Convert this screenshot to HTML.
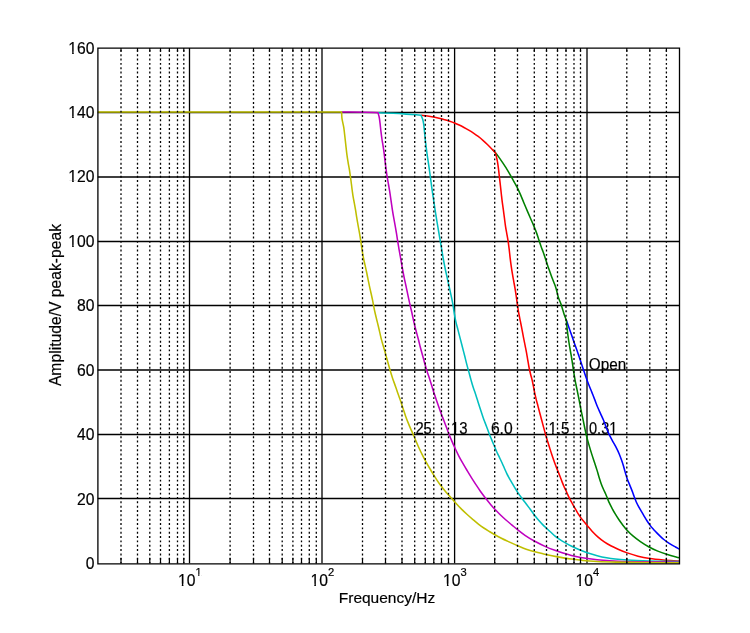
<!DOCTYPE html><html><head><meta charset="utf-8"><style>html,body{margin:0;padding:0;background:#fff;overflow:hidden}svg{display:block}</style></head><body><svg width="750" height="633" viewBox="0 0 750 633" font-family="'Liberation Sans', sans-serif">
<style>text{fill:#000;stroke:#000;stroke-width:0.18px}</style>
<rect width="750" height="633" fill="#fff"/>
<defs><mask id="nf0" maskUnits="userSpaceOnUse" x="-2000" y="-2000" width="4000" height="4000"><rect x="-2000" y="-2000" width="4000" height="4000" fill="#fff"/><rect x="0.35" y="-2.02" width="3.47" height="2.55" fill="#000"/><rect x="5.47" y="-2.02" width="3.27" height="2.55" fill="#000"/></mask><mask id="nf1" maskUnits="userSpaceOnUse" x="-2000" y="-2000" width="4000" height="4000"><rect x="-2000" y="-2000" width="4000" height="4000" fill="#fff"/><rect x="0.35" y="-2.02" width="3.47" height="2.55" fill="#000"/><rect x="5.47" y="-2.02" width="3.27" height="2.55" fill="#000"/></mask><mask id="nf2" maskUnits="userSpaceOnUse" x="-2000" y="-2000" width="4000" height="4000"><rect x="-2000" y="-2000" width="4000" height="4000" fill="#fff"/><rect x="22.18" y="-2.02" width="3.47" height="2.55" fill="#000"/><rect x="27.29" y="-2.02" width="3.27" height="2.55" fill="#000"/></mask><mask id="nf3" maskUnits="userSpaceOnUse" x="-2000" y="-2000" width="4000" height="4000"><rect x="-2000" y="-2000" width="4000" height="4000" fill="#fff"/><rect x="68.66" y="244.78" width="3.47" height="2.55" fill="#000"/><rect x="73.77" y="244.78" width="3.27" height="2.55" fill="#000"/></mask><mask id="nf4" maskUnits="userSpaceOnUse" x="-2000" y="-2000" width="4000" height="4000"><rect x="-2000" y="-2000" width="4000" height="4000" fill="#fff"/><rect x="68.66" y="180.38" width="3.47" height="2.55" fill="#000"/><rect x="73.77" y="180.38" width="3.27" height="2.55" fill="#000"/></mask><mask id="nf5" maskUnits="userSpaceOnUse" x="-2000" y="-2000" width="4000" height="4000"><rect x="-2000" y="-2000" width="4000" height="4000" fill="#fff"/><rect x="68.66" y="115.98" width="3.47" height="2.55" fill="#000"/><rect x="73.77" y="115.98" width="3.27" height="2.55" fill="#000"/></mask><mask id="nf6" maskUnits="userSpaceOnUse" x="-2000" y="-2000" width="4000" height="4000"><rect x="-2000" y="-2000" width="4000" height="4000" fill="#fff"/><rect x="68.66" y="51.58" width="3.47" height="2.55" fill="#000"/><rect x="73.77" y="51.58" width="3.27" height="2.55" fill="#000"/></mask><mask id="nf7" maskUnits="userSpaceOnUse" x="-2000" y="-2000" width="4000" height="4000"><rect x="-2000" y="-2000" width="4000" height="4000" fill="#fff"/><rect x="178.32" y="583.68" width="3.47" height="2.55" fill="#000"/><rect x="183.43" y="583.68" width="3.27" height="2.55" fill="#000"/></mask><mask id="nf8" maskUnits="userSpaceOnUse" x="-2000" y="-2000" width="4000" height="4000"><rect x="-2000" y="-2000" width="4000" height="4000" fill="#fff"/><rect x="195.75" y="574.56" width="2.47" height="1.82" fill="#000"/><rect x="199.40" y="574.56" width="2.33" height="1.82" fill="#000"/></mask><mask id="nf9" maskUnits="userSpaceOnUse" x="-2000" y="-2000" width="4000" height="4000"><rect x="-2000" y="-2000" width="4000" height="4000" fill="#fff"/><rect x="310.82" y="583.68" width="3.47" height="2.55" fill="#000"/><rect x="315.93" y="583.68" width="3.27" height="2.55" fill="#000"/></mask><mask id="nf10" maskUnits="userSpaceOnUse" x="-2000" y="-2000" width="4000" height="4000"><rect x="-2000" y="-2000" width="4000" height="4000" fill="#fff"/><rect x="443.42" y="583.68" width="3.47" height="2.55" fill="#000"/><rect x="448.53" y="583.68" width="3.27" height="2.55" fill="#000"/></mask><mask id="nf11" maskUnits="userSpaceOnUse" x="-2000" y="-2000" width="4000" height="4000"><rect x="-2000" y="-2000" width="4000" height="4000" fill="#fff"/><rect x="575.82" y="583.68" width="3.47" height="2.55" fill="#000"/><rect x="580.93" y="583.68" width="3.27" height="2.55" fill="#000"/></mask></defs>
<path d="M189.50 48.0V563.3M322.00 48.0V563.3M454.60 48.0V563.3M587.00 48.0V563.3M97.8 498.50H679.4M97.8 434.50H679.4M97.8 370.00H679.4M97.8 305.50H679.4M97.8 241.50H679.4M97.8 177.00H679.4M97.8 112.50H679.4" stroke="#000" stroke-width="1.3" fill="none"/>
<text transform="translate(588.8 370.0) scale(0.975 1)" font-size="15.7">Open</text>
<text transform="translate(415.4 434.0) scale(0.94 1)" font-size="15.7">25</text>
<text transform="translate(451.0 434.0) scale(0.95 1)" font-size="15.7" mask="url(#nf0)">13</text>
<text transform="translate(490.9 434.0) scale(1.0 1)" font-size="15.7">6.0</text>
<text transform="translate(548.4 434.0) scale(0.965 1)" font-size="15.7" mask="url(#nf1)">1.5</text>
<text transform="translate(589.0 434.0) scale(0.93 1)" font-size="15.7" mask="url(#nf2)">0.31</text>
<path d="M566.40 320.40 C567.27 322.83 568.13 325.24 569.00 327.70 C569.88 330.22 570.75 332.77 571.65 335.35 C572.57 338.00 573.50 340.71 574.45 343.40 C575.40 346.11 576.40 348.83 577.35 351.55 C578.30 354.28 579.24 356.97 580.18 359.75 C581.14 362.62 582.08 365.59 583.05 368.50 C584.02 371.41 585.00 374.41 586.00 377.23 C586.95 379.90 587.89 382.45 588.88 385.00 C589.85 387.50 590.89 389.92 591.88 392.40 C592.87 394.89 593.86 397.43 594.83 399.90 C595.76 402.30 596.61 404.71 597.58 407.03 C598.51 409.27 599.54 411.37 600.53 413.57 C601.53 415.81 602.61 418.05 603.55 420.32 C604.49 422.60 605.28 424.97 606.17 427.25 C607.06 429.50 607.85 431.71 608.88 433.93 C609.94 436.23 611.22 438.54 612.45 440.82 C613.68 443.11 615.10 445.41 616.25 447.62 C617.31 449.68 618.28 451.68 619.12 453.68 C619.93 455.57 620.57 457.41 621.25 459.32 C621.95 461.28 622.62 463.25 623.25 465.30 C623.91 467.43 624.46 469.69 625.10 471.88 C625.74 474.06 626.33 476.31 627.07 478.42 C627.80 480.48 628.67 482.41 629.48 484.40 C630.28 486.39 631.13 488.38 631.90 490.38 C632.66 492.35 633.32 494.40 634.05 496.33 C634.75 498.17 635.40 499.96 636.17 501.70 C636.93 503.40 637.76 505.03 638.62 506.65 C639.49 508.26 640.43 509.78 641.35 511.38 C642.29 513.00 643.26 514.68 644.23 516.30 C645.18 517.90 646.14 519.52 647.12 521.02 C648.06 522.45 648.99 523.79 649.97 525.10 C650.94 526.39 651.92 527.62 652.97 528.83 C654.04 530.04 655.17 531.18 656.32 532.38 C657.53 533.62 658.81 534.92 660.08 536.12 C661.31 537.30 662.57 538.49 663.83 539.52 C665.00 540.49 666.15 541.33 667.38 542.17 C668.63 543.04 669.94 543.86 671.27 544.65 C672.63 545.46 674.05 546.22 675.42 546.98 C676.76 547.71 678.07 548.39 679.40 549.10" stroke="#0000ff" stroke-width="1.55" fill="none" stroke-linejoin="round" stroke-linecap="butt"/>
<path d="M492.40 149.50 C493.32 150.47 494.24 151.37 495.15 152.43 C496.14 153.57 497.05 154.68 498.12 156.12 C499.54 158.03 501.24 160.58 502.80 162.93 C504.44 165.38 506.25 168.12 507.72 170.53 C509.02 172.64 510.10 174.63 511.20 176.58 C512.21 178.38 513.10 180.04 514.08 181.80 C515.08 183.61 516.13 185.35 517.12 187.30 C518.21 189.42 519.24 191.70 520.27 194.07 C521.40 196.66 522.48 199.49 523.62 202.25 C524.81 205.09 526.06 208.05 527.27 210.88 C528.45 213.63 529.66 216.36 530.80 219.00 C531.89 221.51 532.97 223.90 533.98 226.35 C534.97 228.77 535.94 231.21 536.80 233.62 C537.64 235.97 538.33 238.39 539.08 240.62 C539.76 242.68 540.38 244.62 541.08 246.55 C541.75 248.43 542.50 250.20 543.17 252.07 C543.87 254.00 544.54 255.98 545.20 257.98 C545.88 260.01 546.50 262.07 547.20 264.15 C547.91 266.27 548.66 268.42 549.42 270.57 C550.20 272.78 551.02 275.09 551.83 277.23 C552.58 279.22 553.41 281.18 554.10 282.98 C554.71 284.54 555.31 285.97 555.77 287.40 C556.20 288.72 556.51 289.98 556.83 291.25 C557.14 292.49 557.36 293.73 557.67 294.95 C557.99 296.15 558.32 297.35 558.73 298.50 C559.12 299.62 559.64 300.65 560.08 301.75 C560.52 302.87 560.97 303.95 561.38 305.15 C561.81 306.45 562.14 307.83 562.58 309.27 C563.06 310.89 563.57 312.63 564.17 314.40 C564.83 316.33 565.66 318.40 566.40 320.40 C566.56 322.34 566.67 324.14 566.88 326.23 C567.11 328.64 567.41 331.39 567.75 334.02 C568.10 336.73 568.51 339.57 568.92 342.25 C569.33 344.83 569.78 347.37 570.20 349.83 C570.60 352.15 571.02 354.37 571.40 356.60 C571.77 358.77 572.08 360.76 572.42 363.05 C572.82 365.65 573.18 368.51 573.62 371.38 C574.10 374.45 574.62 377.82 575.20 380.92 C575.76 383.90 576.41 386.65 577.02 389.62 C577.67 392.77 578.35 396.03 579.00 399.32 C579.68 402.75 580.32 406.39 581.00 409.80 C581.65 413.07 582.36 416.27 583.00 419.38 C583.61 422.32 584.16 425.19 584.75 428.00 C585.32 430.69 585.82 433.21 586.48 435.88 C587.16 438.66 587.96 441.47 588.80 444.38 C589.69 447.46 590.69 450.77 591.67 453.88 C592.63 456.89 593.68 459.93 594.60 462.75 C595.44 465.32 596.23 467.71 596.98 470.12 C597.69 472.45 598.27 474.71 598.98 476.98 C599.67 479.22 600.40 481.54 601.17 483.65 C601.90 485.61 602.69 487.49 603.45 489.25 C604.14 490.85 604.89 492.26 605.55 493.77 C606.20 495.27 606.78 496.76 607.40 498.27 C608.03 499.81 608.60 501.35 609.33 502.92 C610.10 504.60 610.99 506.27 611.92 508.02 C612.94 509.94 614.06 512.00 615.23 513.95 C616.40 515.92 617.66 517.91 618.95 519.80 C620.22 521.65 621.53 523.41 622.90 525.17 C624.29 526.96 625.65 528.73 627.25 530.45 C628.96 532.29 630.83 534.08 632.90 535.85 C635.17 537.79 637.77 539.73 640.40 541.55 C643.14 543.44 646.11 545.36 649.05 546.98 C651.91 548.54 654.76 549.89 657.77 551.12 C660.88 552.39 664.04 553.39 667.45 554.45 C671.21 555.62 675.42 556.68 679.40 557.80" stroke="#008000" stroke-width="1.55" fill="none" stroke-linejoin="round" stroke-linecap="butt"/>
<path d="M421.00 115.20 C423.17 115.47 425.42 115.69 427.52 116.00 C429.51 116.29 431.39 116.62 433.30 117.00 C435.21 117.38 437.11 117.82 439.00 118.28 C440.89 118.73 442.80 119.25 444.62 119.75 C446.36 120.23 448.04 120.69 449.70 121.23 C451.32 121.75 452.90 122.29 454.48 122.92 C456.07 123.57 457.65 124.29 459.23 125.05 C460.82 125.82 462.40 126.65 463.98 127.50 C465.57 128.36 467.15 129.24 468.73 130.17 C470.32 131.12 471.91 132.09 473.48 133.12 C475.07 134.18 476.64 135.29 478.20 136.47 C479.80 137.69 481.37 138.97 482.93 140.32 C484.53 141.73 486.14 143.27 487.67 144.78 C489.17 146.24 490.66 147.78 492.02 149.22 C493.29 150.55 494.41 151.81 495.60 153.10 C496.22 155.93 496.95 158.81 497.45 161.60 C497.93 164.28 498.24 166.90 498.57 169.53 C498.90 172.11 499.12 174.60 499.43 177.25 C499.75 180.07 500.12 183.06 500.45 185.97 C500.78 188.90 501.08 191.95 501.40 194.78 C501.70 197.40 501.97 199.81 502.30 202.35 C502.64 204.94 503.04 207.53 503.40 210.18 C503.77 212.90 504.12 215.75 504.48 218.47 C504.82 221.12 505.13 223.72 505.52 226.30 C505.91 228.85 506.39 231.35 506.82 233.88 C507.26 236.39 507.76 238.88 508.15 241.43 C508.55 244.01 508.85 246.60 509.18 249.25 C509.51 251.98 509.77 254.80 510.10 257.58 C510.43 260.35 510.79 263.15 511.18 265.88 C511.55 268.52 511.95 271.11 512.38 273.70 C512.80 276.25 513.27 278.77 513.73 281.30 C514.18 283.83 514.67 286.31 515.10 288.88 C515.54 291.50 515.94 294.17 516.33 296.85 C516.72 299.58 517.05 302.38 517.45 305.10 C517.85 307.76 518.25 310.35 518.73 313.00 C519.21 315.69 519.81 318.39 520.35 321.10 C520.89 323.84 521.45 326.63 521.97 329.38 C522.49 332.08 522.95 334.78 523.47 337.45 C523.99 340.09 524.56 342.71 525.08 345.30 C525.58 347.82 526.10 350.28 526.55 352.77 C527.00 355.26 527.38 357.78 527.80 360.25 C528.21 362.68 528.58 365.14 529.05 367.48 C529.50 369.70 530.01 371.86 530.52 373.98 C531.02 376.00 531.60 377.90 532.08 379.90 C532.56 381.93 532.97 383.96 533.40 386.07 C533.85 388.30 534.23 390.68 534.70 392.95 C535.17 395.18 535.69 397.41 536.23 399.57 C536.75 401.67 537.32 403.65 537.88 405.73 C538.44 407.85 538.99 409.96 539.58 412.18 C540.20 414.55 540.86 417.03 541.53 419.52 C542.21 422.10 542.93 424.83 543.62 427.40 C544.29 429.86 544.93 432.28 545.60 434.62 C546.24 436.86 546.88 438.97 547.55 441.15 C548.22 443.35 548.91 445.52 549.62 447.77 C550.37 450.13 551.14 452.56 551.95 454.98 C552.78 457.45 553.66 460.01 554.55 462.45 C555.41 464.81 556.31 467.11 557.20 469.38 C558.06 471.57 558.95 473.71 559.77 475.82 C560.57 477.87 561.33 480.00 562.07 481.88 C562.73 483.53 563.35 485.04 564.00 486.50 C564.59 487.83 565.21 488.98 565.80 490.27 C566.41 491.62 566.98 493.06 567.60 494.42 C568.21 495.76 568.82 497.10 569.48 498.38 C570.10 499.60 570.76 500.71 571.42 501.93 C572.13 503.21 572.84 504.53 573.60 505.88 C574.40 507.29 575.26 508.80 576.10 510.23 C576.92 511.63 577.72 513.04 578.58 514.38 C579.40 515.67 580.21 516.91 581.12 518.12 C582.05 519.36 583.07 520.48 584.10 521.73 C585.22 523.08 586.38 524.49 587.62 525.98 C589.02 527.63 590.46 529.46 592.07 531.20 C593.82 533.07 595.78 535.03 597.80 536.80 C599.84 538.59 602.07 540.34 604.27 541.85 C606.40 543.30 608.52 544.52 610.77 545.73 C613.11 546.97 615.48 548.04 618.08 549.17 C620.95 550.43 624.07 551.74 627.27 552.88 C630.69 554.08 634.33 555.23 638.00 556.15 C641.79 557.10 645.62 557.85 649.67 558.48 C654.03 559.15 658.56 559.57 663.30 560.00 C668.44 560.46 674.03 560.73 679.40 561.10" stroke="#ff0000" stroke-width="1.55" fill="none" stroke-linejoin="round" stroke-linecap="butt"/>
<path d="M378.00 112.70 C383.04 112.91 388.26 113.08 393.12 113.33 C397.66 113.56 401.75 113.82 406.25 114.12 C411.02 114.44 416.08 114.84 421.00 115.20 C421.53 116.48 422.17 117.69 422.60 119.05 C423.06 120.51 423.32 122.02 423.60 123.70 C423.92 125.67 424.07 127.74 424.33 130.15 C424.65 133.22 424.96 136.96 425.38 140.62 C425.84 144.70 426.42 149.29 427.00 153.50 C427.56 157.57 428.21 161.56 428.77 165.47 C429.31 169.22 429.81 172.88 430.30 176.50 C430.77 180.00 431.21 183.49 431.68 186.82 C432.11 189.97 432.55 192.96 433.00 195.97 C433.44 198.93 433.88 201.81 434.32 204.75 C434.78 207.73 435.23 210.77 435.70 213.75 C436.16 216.69 436.62 219.57 437.10 222.50 C437.59 225.47 438.11 228.46 438.62 231.47 C439.15 234.53 439.71 237.64 440.23 240.70 C440.74 243.72 441.21 246.68 441.72 249.72 C442.25 252.86 442.77 256.08 443.35 259.25 C443.93 262.42 444.55 265.61 445.20 268.75 C445.84 271.85 446.54 274.86 447.23 277.98 C447.93 281.17 448.67 284.48 449.38 287.67 C450.06 290.79 450.77 293.90 451.40 296.92 C452.00 299.83 452.57 302.62 453.07 305.48 C453.57 308.32 453.91 311.22 454.40 314.02 C454.87 316.75 455.35 319.42 455.95 322.08 C456.54 324.71 457.29 327.23 457.98 329.88 C458.68 332.60 459.38 335.39 460.10 338.18 C460.83 341.00 461.59 343.85 462.32 346.70 C463.06 349.55 463.80 352.41 464.52 355.27 C465.25 358.14 465.91 361.04 466.65 363.88 C467.37 366.66 468.16 369.42 468.90 372.12 C469.61 374.75 470.29 377.39 471.00 379.90 C471.67 382.27 472.31 384.56 473.02 386.78 C473.71 388.89 474.47 390.83 475.18 392.93 C475.90 395.09 476.60 397.34 477.30 399.55 C478.00 401.76 478.70 404.03 479.40 406.17 C480.06 408.22 480.74 410.22 481.38 412.15 C481.97 413.96 482.51 415.72 483.10 417.42 C483.67 419.04 484.23 420.49 484.85 422.12 C485.53 423.92 486.27 425.83 487.00 427.77 C487.78 429.84 488.57 432.11 489.38 434.17 C490.14 436.13 490.94 437.96 491.73 439.85 C492.51 441.75 493.30 443.63 494.10 445.55 C494.92 447.51 495.72 449.55 496.60 451.50 C497.47 453.43 498.41 455.25 499.32 457.18 C500.27 459.15 501.29 461.21 502.20 463.20 C503.08 465.13 503.93 467.16 504.73 468.95 C505.42 470.52 506.01 471.94 506.70 473.38 C507.37 474.76 508.04 476.03 508.80 477.43 C509.64 478.96 510.59 480.58 511.52 482.20 C512.51 483.90 513.53 485.67 514.57 487.40 C515.63 489.14 516.66 490.87 517.83 492.60 C519.04 494.41 520.37 496.21 521.73 498.02 C523.12 499.90 524.63 501.77 526.08 503.67 C527.53 505.61 528.97 507.59 530.42 509.55 C531.88 511.51 533.32 513.56 534.77 515.43 C536.15 517.19 537.53 518.89 538.90 520.48 C540.17 521.94 541.39 523.29 542.68 524.60 C543.92 525.86 545.18 526.99 546.48 528.20 C547.82 529.45 549.19 530.72 550.60 532.00 C552.06 533.33 553.51 534.78 555.08 536.05 C556.64 537.32 558.29 538.48 560.00 539.60 C561.73 540.74 563.56 541.75 565.40 542.80 C567.29 543.88 569.16 544.96 571.20 546.00 C573.41 547.13 575.70 548.24 578.20 549.30 C580.99 550.48 584.10 551.65 587.20 552.70 C590.43 553.79 593.90 554.84 597.20 555.70 C600.37 556.53 603.52 557.23 606.60 557.80 C609.53 558.34 612.11 558.72 615.25 559.08 C618.99 559.49 622.88 559.75 627.58 560.02 C633.84 560.39 641.62 560.66 649.50 560.90 C658.69 561.18 669.43 561.30 679.40 561.50" stroke="#00bfbf" stroke-width="1.55" fill="none" stroke-linejoin="round" stroke-linecap="butt"/>
<path d="M341.60 112.00 C349.53 112.09 358.72 112.12 365.40 112.27 C370.26 112.39 373.80 112.56 378.00 112.70 C378.38 114.05 378.81 115.25 379.12 116.75 C379.51 118.57 379.72 120.70 380.00 122.88 C380.31 125.35 380.56 128.16 380.87 130.82 C381.20 133.53 381.54 136.37 381.93 139.00 C382.29 141.47 382.73 143.77 383.10 146.18 C383.48 148.61 383.84 151.02 384.17 153.53 C384.52 156.14 384.80 158.92 385.12 161.58 C385.44 164.17 385.74 166.75 386.08 169.28 C386.40 171.72 386.74 174.08 387.12 176.50 C387.52 178.97 387.97 181.44 388.40 183.95 C388.84 186.51 389.30 189.06 389.73 191.70 C390.16 194.44 390.56 197.22 390.97 200.07 C391.41 203.07 391.84 206.28 392.30 209.27 C392.75 212.15 393.22 214.99 393.70 217.72 C394.15 220.32 394.65 222.77 395.10 225.30 C395.55 227.83 395.98 230.36 396.40 232.90 C396.82 235.46 397.19 238.02 397.60 240.60 C398.02 243.22 398.45 245.88 398.90 248.53 C399.35 251.17 399.83 253.83 400.30 256.48 C400.77 259.13 401.23 261.79 401.70 264.43 C402.16 267.04 402.62 269.71 403.10 272.25 C403.56 274.68 404.04 277.04 404.52 279.38 C405.00 281.63 405.50 283.81 405.98 286.02 C406.45 288.24 406.93 290.47 407.40 292.68 C407.86 294.86 408.31 297.05 408.77 299.20 C409.23 301.31 409.70 303.38 410.18 305.48 C410.65 307.57 411.16 309.58 411.65 311.75 C412.18 314.07 412.68 316.52 413.23 318.98 C413.79 321.53 414.37 324.24 415.00 326.77 C415.60 329.20 416.28 331.55 416.90 333.88 C417.50 336.13 418.12 338.35 418.68 340.52 C419.21 342.62 419.68 344.68 420.20 346.70 C420.71 348.67 421.21 350.53 421.75 352.50 C422.31 354.55 422.92 356.66 423.50 358.78 C424.09 360.93 424.66 363.19 425.27 365.33 C425.87 367.39 426.47 369.41 427.10 371.40 C427.71 373.33 428.37 375.16 429.00 377.07 C429.64 379.02 430.27 380.98 430.90 382.98 C431.54 385.01 432.16 387.11 432.80 389.15 C433.43 391.15 434.05 393.12 434.70 395.10 C435.35 397.08 436.03 399.01 436.73 401.02 C437.46 403.14 438.23 405.36 439.00 407.52 C439.77 409.68 440.55 411.90 441.32 413.98 C442.05 415.92 442.76 417.71 443.50 419.62 C444.26 421.61 445.02 423.58 445.83 425.70 C446.70 428.01 447.59 430.53 448.55 432.97 C449.53 435.49 450.56 438.05 451.65 440.60 C452.77 443.22 453.94 445.87 455.17 448.50 C456.43 451.18 457.74 453.92 459.10 456.53 C460.42 459.06 461.82 461.51 463.20 463.92 C464.55 466.29 465.90 468.54 467.30 470.88 C468.74 473.27 470.24 475.76 471.73 478.13 C473.17 480.43 474.65 482.69 476.10 484.88 C477.48 486.95 478.74 488.86 480.20 490.93 C481.78 493.16 483.51 495.55 485.25 497.80 C486.98 500.04 488.84 502.33 490.60 504.40 C492.22 506.31 493.76 508.03 495.40 509.80 C497.06 511.58 498.74 513.35 500.50 515.05 C502.26 516.75 504.09 518.38 505.95 520.00 C507.84 521.64 509.80 523.22 511.75 524.85 C513.75 526.52 515.67 528.22 517.80 529.90 C520.07 531.70 522.37 533.51 525.00 535.30 C527.97 537.32 531.41 539.43 534.80 541.30 C538.26 543.21 542.07 545.05 545.55 546.60 C548.73 548.02 551.84 549.18 554.85 550.30 C557.64 551.33 560.25 552.24 563.00 553.10 C565.77 553.97 568.51 554.78 571.40 555.50 C574.43 556.25 577.56 556.91 580.80 557.50 C584.22 558.12 587.78 558.64 591.40 559.10 C595.17 559.58 598.87 559.97 603.00 560.30 C607.73 560.68 612.52 560.92 618.25 561.15 C625.63 561.45 634.42 561.59 643.60 561.77 C654.51 561.99 667.47 562.12 679.40 562.30" stroke="#bf00bf" stroke-width="1.55" fill="none" stroke-linejoin="round" stroke-linecap="butt"/>
<path d="M97.80 112.00 L341.60 112.00 C341.71 114.04 341.70 116.22 341.93 118.12 C342.13 119.82 342.51 121.29 342.83 122.88 C343.14 124.47 343.53 125.97 343.80 127.65 C344.10 129.51 344.29 131.52 344.53 133.55 C344.78 135.72 345.02 137.99 345.28 140.28 C345.54 142.66 345.82 145.14 346.10 147.60 C346.39 150.10 346.63 152.67 346.98 155.18 C347.31 157.64 347.72 160.09 348.12 162.50 C348.52 164.86 348.99 167.16 349.38 169.50 C349.76 171.83 350.09 174.15 350.42 176.50 C350.76 178.89 351.07 181.33 351.37 183.73 C351.68 186.08 351.94 188.48 352.25 190.75 C352.54 192.88 352.80 194.89 353.15 196.95 C353.50 199.01 353.93 200.98 354.32 203.10 C354.74 205.37 355.18 207.78 355.58 210.18 C355.99 212.65 356.33 215.21 356.75 217.72 C357.17 220.25 357.62 222.76 358.08 225.30 C358.54 227.89 359.05 230.51 359.50 233.12 C359.95 235.73 360.39 238.45 360.77 240.95 C361.13 243.24 361.45 245.47 361.75 247.53 C362.02 249.35 362.22 250.93 362.50 252.68 C362.80 254.49 363.10 256.26 363.50 258.23 C363.95 260.47 364.55 262.96 365.10 265.43 C365.68 268.03 366.32 270.83 366.88 273.47 C367.42 276.04 367.90 278.59 368.40 281.05 C368.88 283.39 369.34 285.66 369.82 287.90 C370.30 290.07 370.81 292.20 371.28 294.27 C371.72 296.26 372.16 298.17 372.55 300.10 C372.93 301.98 373.23 303.78 373.60 305.70 C374.00 307.73 374.40 309.81 374.88 311.98 C375.39 314.30 376.02 316.78 376.60 319.20 C377.19 321.64 377.83 324.14 378.40 326.55 C378.95 328.88 379.45 331.17 379.98 333.42 C380.49 335.60 380.97 337.74 381.52 339.85 C382.08 341.93 382.70 343.94 383.30 346.02 C383.92 348.16 384.56 350.34 385.18 352.52 C385.80 354.75 386.39 357.05 387.00 359.28 C387.60 361.47 388.21 363.63 388.82 365.80 C389.44 367.98 390.05 370.16 390.70 372.32 C391.35 374.47 392.02 376.64 392.73 378.73 C393.41 380.74 394.16 382.68 394.85 384.62 C395.53 386.53 396.16 388.41 396.82 390.30 C397.49 392.20 398.13 394.05 398.83 396.00 C399.56 398.07 400.36 400.21 401.10 402.40 C401.87 404.68 402.60 407.11 403.35 409.40 C404.08 411.62 404.75 413.78 405.52 415.95 C406.30 418.12 407.13 420.28 407.98 422.40 C408.81 424.49 409.70 426.56 410.58 428.58 C411.41 430.51 412.26 432.30 413.10 434.25 C413.99 436.30 414.85 438.42 415.78 440.57 C416.74 442.83 417.73 445.20 418.77 447.50 C419.83 449.82 420.93 452.12 422.07 454.43 C423.23 456.75 424.45 459.10 425.70 461.38 C426.93 463.62 428.22 465.82 429.50 468.00 C430.76 470.14 432.02 472.25 433.30 474.32 C434.56 476.36 435.81 478.41 437.10 480.35 C438.35 482.22 439.59 484.01 440.93 485.77 C442.25 487.54 443.63 489.21 445.07 490.93 C446.57 492.70 448.15 494.43 449.75 496.25 C451.45 498.18 453.18 500.19 455.00 502.20 C456.92 504.31 458.95 506.54 461.00 508.60 C463.02 510.64 465.15 512.62 467.20 514.50 C469.15 516.28 471.09 517.97 473.00 519.60 C474.82 521.16 476.58 522.68 478.40 524.10 C480.18 525.48 481.96 526.76 483.80 528.00 C485.63 529.23 487.54 530.37 489.40 531.50 C491.23 532.61 493.00 533.69 494.88 534.75 C496.82 535.85 498.76 536.91 500.90 538.00 C503.28 539.21 505.88 540.43 508.52 541.65 C511.36 542.96 514.44 544.34 517.40 545.60 C520.33 546.84 523.26 548.11 526.20 549.15 C529.06 550.17 531.90 551.01 534.80 551.80 C537.70 552.59 540.70 553.24 543.60 553.90 C546.43 554.54 549.17 555.15 552.00 555.72 C554.88 556.31 557.70 556.85 560.75 557.38 C564.09 557.95 567.65 558.51 571.25 559.00 C575.05 559.52 578.91 560.01 583.00 560.40 C587.46 560.83 591.96 561.15 597.00 561.42 C602.90 561.75 609.27 561.94 616.25 562.12 C624.57 562.34 633.87 562.44 643.60 562.55 C654.73 562.68 667.47 562.72 679.40 562.80" stroke="#bfbf00" stroke-width="1.55" fill="none" stroke-linejoin="round" stroke-linecap="butt"/>
<path d="M121.00 48.0V563.3M137.50 48.0V563.3M149.80 48.0V563.3M160.50 48.0V563.3M169.40 48.0V563.3M177.50 48.0V563.3M183.80 48.0V563.3M230.10 48.0V563.3M253.50 48.0V563.3M269.50 48.0V563.3M282.20 48.0V563.3M292.90 48.0V563.3M301.50 48.0V563.3M309.30 48.0V563.3M316.30 48.0V563.3M362.50 48.0V563.3M385.50 48.0V563.3M402.00 48.0V563.3M414.70 48.0V563.3M425.30 48.0V563.3M433.80 48.0V563.3M441.50 48.0V563.3M448.50 48.0V563.3M494.70 48.0V563.3M517.50 48.0V563.3M534.30 48.0V563.3M546.50 48.0V563.3M557.50 48.0V563.3M566.00 48.0V563.3M574.00 48.0V563.3M580.50 48.0V563.3M626.80 48.0V563.3M649.80 48.0V563.3M666.40 48.0V563.3" stroke="#000" stroke-width="1.3" stroke-dasharray="1.95 2.391" stroke-dashoffset="2.457" fill="none"/>
<path d="M121.00 563.5v-5.5M121.00 48v3.8M137.50 563.5v-5.5M137.50 48v3.8M149.80 563.5v-5.5M149.80 48v3.8M160.50 563.5v-5.5M160.50 48v3.8M169.40 563.5v-5.5M169.40 48v3.8M177.50 563.5v-5.5M177.50 48v3.8M183.80 563.5v-5.5M183.80 48v3.8M230.10 563.5v-5.5M230.10 48v3.8M253.50 563.5v-5.5M253.50 48v3.8M269.50 563.5v-5.5M269.50 48v3.8M282.20 563.5v-5.5M282.20 48v3.8M292.90 563.5v-5.5M292.90 48v3.8M301.50 563.5v-5.5M301.50 48v3.8M309.30 563.5v-5.5M309.30 48v3.8M316.30 563.5v-5.5M316.30 48v3.8M362.50 563.5v-5.5M362.50 48v3.8M385.50 563.5v-5.5M385.50 48v3.8M402.00 563.5v-5.5M402.00 48v3.8M414.70 563.5v-5.5M414.70 48v3.8M425.30 563.5v-5.5M425.30 48v3.8M433.80 563.5v-5.5M433.80 48v3.8M441.50 563.5v-5.5M441.50 48v3.8M448.50 563.5v-5.5M448.50 48v3.8M494.70 563.5v-5.5M494.70 48v3.8M517.50 563.5v-5.5M517.50 48v3.8M534.30 563.5v-5.5M534.30 48v3.8M546.50 563.5v-5.5M546.50 48v3.8M557.50 563.5v-5.5M557.50 48v3.8M566.00 563.5v-5.5M566.00 48v3.8M574.00 563.5v-5.5M574.00 48v3.8M580.50 563.5v-5.5M580.50 48v3.8M626.80 563.5v-5.5M626.80 48v3.8M649.80 563.5v-5.5M649.80 48v3.8M666.40 563.5v-5.5M666.40 48v3.8" stroke="#000" stroke-width="1.2" fill="none"/>
<path d="M97.3 48.1H680M97.3 563.8H680M97.9 47.5V564.4M679.5 47.5V564.4" fill="none" stroke="#000" stroke-width="1.3"/>
<text x="94.5" y="568.9" font-size="15.7" text-anchor="end">0</text>
<text x="94.5" y="504.5" font-size="15.7" text-anchor="end">20</text>
<text x="94.5" y="440.1" font-size="15.7" text-anchor="end">40</text>
<text x="94.5" y="375.7" font-size="15.7" text-anchor="end">60</text>
<text x="94.5" y="311.2" font-size="15.7" text-anchor="end">80</text>
<text x="94.5" y="246.8" font-size="15.7" text-anchor="end" mask="url(#nf3)">100</text>
<text x="94.5" y="182.4" font-size="15.7" text-anchor="end" mask="url(#nf4)">120</text>
<text x="94.5" y="118.0" font-size="15.7" text-anchor="end" mask="url(#nf5)">140</text>
<text x="94.5" y="53.6" font-size="15.7" text-anchor="end" mask="url(#nf6)">160</text>
<text x="186.7" y="585.7" font-size="15.7" text-anchor="middle" mask="url(#nf7)">10</text>
<text x="195.5" y="576" font-size="11.2" mask="url(#nf8)">1</text>
<text x="319.2" y="585.7" font-size="15.7" text-anchor="middle" mask="url(#nf9)">10</text>
<text x="328.0" y="576" font-size="11.2">2</text>
<text x="451.8" y="585.7" font-size="15.7" text-anchor="middle" mask="url(#nf10)">10</text>
<text x="460.6" y="576" font-size="11.2">3</text>
<text x="584.2" y="585.7" font-size="15.7" text-anchor="middle" mask="url(#nf11)">10</text>
<text x="593.0" y="576" font-size="11.2">4</text>
<text x="387.0" y="603.2" font-size="15.5" text-anchor="middle">Frequency/Hz</text>
<text transform="translate(61.1 305) rotate(-90)" font-size="15.7" text-anchor="middle">Amplitude/V peak-peak</text>
</svg></body></html>
